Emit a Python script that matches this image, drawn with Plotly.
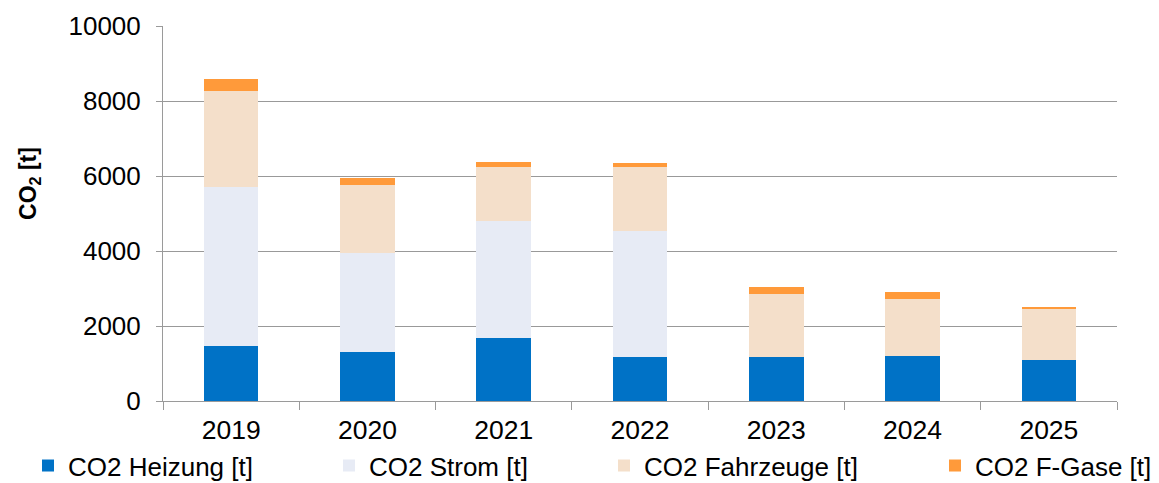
import plotly.graph_objects as go

# Jahreswerte der CO2-Emissionen nach Quelle (in Tonnen)
years = ["2019", "2020", "2021", "2022", "2023", "2024", "2025"]
heizung = [1460, 1300, 1670, 1170, 1170, 1190, 1100]
strom = [4250, 2650, 3120, 3360, 0, 0, 0]
fahrzeuge = [2560, 1810, 1440, 1710, 1680, 1540, 1360]
f_gase = [320, 190, 140, 110, 200, 180, 45]

y_ticks = [0, 2000, 4000, 6000, 8000, 10000]
y_tick_labels = ["0", "2000", "4000", "6000", "8000", "10000"]

series = [
    ("CO2 Heizung [t]", heizung, "#0072C6", "legend"),
    ("CO2 Strom [t]", strom, "#E7EBF5", "legend2"),
    ("CO2 Fahrzeuge [t]", fahrzeuge, "#F4DFCA", "legend3"),
    ("CO2 F-Gase [t]", f_gase, "#FF9A3A", "legend4"),
]

FONT = "Arial, 'Liberation Sans', sans-serif"

fig = go.Figure()
for name, vals, color, lg in series:
    fig.add_trace(go.Bar(
        x=years, y=vals, name=name, legend=lg,
        marker=dict(color=color, line=dict(width=0)),
        width=0.4,
    ))

# one legend box per series so each entry sits at its own spot along the bottom
legend_x = [28, 329, 604, 935]
legend_common = dict(
    orientation="h", xref="container", yref="container",
    xanchor="left", yanchor="middle", y=0.036,
    font=dict(family=FONT, size=26, color="#000000"),
    bgcolor="rgba(0,0,0,0)", borderwidth=0,
    itemclick=False, itemdoubleclick=False,
)
legends = {}
for key, xpx in zip(["legend", "legend2", "legend3", "legend4"], legend_x):
    legends[key] = dict(legend_common, x=xpx / 1159)

fig.update_layout(
    barmode="stack",
    width=1159, height=483,
    margin=dict(l=163, r=42, t=26, b=82, autoexpand=False),
    paper_bgcolor="white", plot_bgcolor="white",
    font=dict(family=FONT, size=26, color="#000000"),
    showlegend=True,
    **legends,
    xaxis=dict(
        showline=True, linecolor="#9a9a9a", linewidth=1,
        ticks="outside", tickson="boundaries", ticklen=8,
        tickcolor="#9a9a9a", tickwidth=1,
        ticklabelstandoff=5,
        tickfont=dict(family=FONT, size=26.5, color="#000000"),
        showgrid=False,
    ),
    yaxis=dict(
        range=[0, 10000], tickmode="array",
        tickvals=y_ticks, ticktext=y_tick_labels,
        showline=True, linecolor="#9a9a9a", linewidth=1,
        ticks="outside", ticklen=6, tickcolor="#9a9a9a", tickwidth=1,
        ticklabelstandoff=10,
        tickfont=dict(family=FONT, size=26, color="#000000"),
        showgrid=True, gridcolor="#999999", gridwidth=1,
        zeroline=False,
    ),
    annotations=[dict(
        text="<b>CO<sub>2</sub> [t]</b>", textangle=-90,
        xref="paper", yref="paper", x=-0.14, y=0.58,
        xanchor="center", yanchor="middle", showarrow=False,
        font=dict(family=FONT, size=23, color="#000000"),
    )],
)

fig.write_html("out.html")
